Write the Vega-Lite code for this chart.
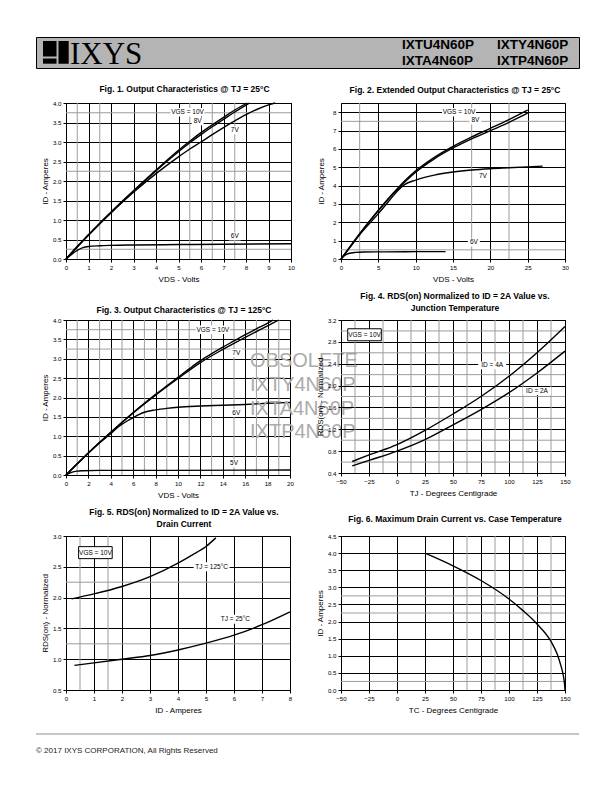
{
 "$schema": "https://vega.github.io/schema/vega-lite/v6.json",
 "padding": {"left": 35, "top": 36, "right": 10, "bottom": 10},
 "background": "white",
 "spacing": 13,
 "config": {
  "font": "Liberation Sans",
  "view": {"stroke": "black", "strokeWidth": 1},
  "axis": {"domain": false, "grid": true, "gridColor": "black", "gridOpacity": 1, "gridWidth": 1, "ticks": true, "tickColor": "black", "tickSize": 3, "labelFontSize": 6.2, "labelColor": "black", "labelFlush": false, "labelOverlap": false, "labelPadding": 2, "titleFontSize": 8, "titleFontWeight": "normal", "titleColor": "black"},
  "axisY": {"minExtent": 13, "titlePadding": 3},
  "axisX": {"titlePadding": 5},
  "title": {"fontSize": 8.5, "fontWeight": "bold", "color": "black", "anchor": "middle", "lineHeight": 12, "frame": "group"}
 },
 "datasets": {
  "f1gx": [{"g": 0.5}, {"g": 1.5}, {"g": 5.5}, {"g": 6.5}, {"g": 7.5}],
  "f1gy": [{"g": 0.25}, {"g": 2.25}, {"g": 3.75}],
  "f1": [
   {"vgs": "10V", "v": 0, "i": 0}, {"vgs": "10V", "v": 0.5, "i": 0.32}, {"vgs": "10V", "v": 1, "i": 0.62}, {"vgs": "10V", "v": 1.5, "i": 0.92}, {"vgs": "10V", "v": 2, "i": 1.2}, {"vgs": "10V", "v": 2.5, "i": 1.48}, {"vgs": "10V", "v": 3, "i": 1.75}, {"vgs": "10V", "v": 3.5, "i": 2.02}, {"vgs": "10V", "v": 4, "i": 2.28}, {"vgs": "10V", "v": 4.5, "i": 2.54}, {"vgs": "10V", "v": 5, "i": 2.79}, {"vgs": "10V", "v": 5.5, "i": 3.02}, {"vgs": "10V", "v": 6, "i": 3.24}, {"vgs": "10V", "v": 6.5, "i": 3.44}, {"vgs": "10V", "v": 7, "i": 3.63}, {"vgs": "10V", "v": 7.5, "i": 3.82}, {"vgs": "10V", "v": 8.05, "i": 4.0},
   {"vgs": "8V", "v": 0, "i": 0}, {"vgs": "8V", "v": 1, "i": 0.62}, {"vgs": "8V", "v": 2, "i": 1.2}, {"vgs": "8V", "v": 3, "i": 1.74}, {"vgs": "8V", "v": 4, "i": 2.26}, {"vgs": "8V", "v": 5, "i": 2.75}, {"vgs": "8V", "v": 5.5, "i": 2.98}, {"vgs": "8V", "v": 6, "i": 3.19}, {"vgs": "8V", "v": 6.5, "i": 3.39}, {"vgs": "8V", "v": 7, "i": 3.58}, {"vgs": "8V", "v": 7.5, "i": 3.77}, {"vgs": "8V", "v": 8.15, "i": 4.0},
   {"vgs": "7V", "v": 0, "i": 0}, {"vgs": "7V", "v": 1, "i": 0.61}, {"vgs": "7V", "v": 2, "i": 1.18}, {"vgs": "7V", "v": 3, "i": 1.71}, {"vgs": "7V", "v": 4, "i": 2.19}, {"vgs": "7V", "v": 5, "i": 2.62}, {"vgs": "7V", "v": 5.5, "i": 2.82}, {"vgs": "7V", "v": 6, "i": 3.0}, {"vgs": "7V", "v": 6.5, "i": 3.19}, {"vgs": "7V", "v": 7, "i": 3.37}, {"vgs": "7V", "v": 7.5, "i": 3.54}, {"vgs": "7V", "v": 8, "i": 3.7}, {"vgs": "7V", "v": 8.5, "i": 3.84}, {"vgs": "7V", "v": 9, "i": 3.95}, {"vgs": "7V", "v": 9.3, "i": 4.0},
   {"vgs": "6V", "v": 0, "i": 0}, {"vgs": "6V", "v": 0.25, "i": 0.12}, {"vgs": "6V", "v": 0.5, "i": 0.22}, {"vgs": "6V", "v": 0.75, "i": 0.29}, {"vgs": "6V", "v": 1, "i": 0.32}, {"vgs": "6V", "v": 1.5, "i": 0.34}, {"vgs": "6V", "v": 2, "i": 0.35}, {"vgs": "6V", "v": 3, "i": 0.36}, {"vgs": "6V", "v": 5, "i": 0.37}, {"vgs": "6V", "v": 7, "i": 0.38}, {"vgs": "6V", "v": 10, "i": 0.39}
  ],
  "f1l": [{"t": "VGS = 10V", "x": 5.4, "y": 3.76}, {"t": "8V", "x": 5.85, "y": 3.53}, {"t": "7V", "x": 7.5, "y": 3.3}, {"t": "6V", "x": 7.5, "y": 0.58}],
  "f2gx": [{"g": 2.5}, {"g": 17.5}, {"g": 22.5}],
  "f2gy": [{"g": 0.5}, {"g": 7.5}],
  "f2": [
   {"vgs": "10V", "v": 0, "i": 0}, {"vgs": "10V", "v": 1, "i": 0.55}, {"vgs": "10V", "v": 2.5, "i": 1.38}, {"vgs": "10V", "v": 5, "i": 2.66}, {"vgs": "10V", "v": 7.5, "i": 3.82}, {"vgs": "10V", "v": 10, "i": 4.8}, {"vgs": "10V", "v": 12.5, "i": 5.54}, {"vgs": "10V", "v": 15, "i": 6.14}, {"vgs": "10V", "v": 17.5, "i": 6.65}, {"vgs": "10V", "v": 20, "i": 7.12}, {"vgs": "10V", "v": 22.5, "i": 7.6}, {"vgs": "10V", "v": 25, "i": 8.12},
   {"vgs": "8V", "v": 0, "i": 0}, {"vgs": "8V", "v": 1, "i": 0.55}, {"vgs": "8V", "v": 2.5, "i": 1.37}, {"vgs": "8V", "v": 5, "i": 2.63}, {"vgs": "8V", "v": 7.5, "i": 3.77}, {"vgs": "8V", "v": 10, "i": 4.73}, {"vgs": "8V", "v": 12.5, "i": 5.46}, {"vgs": "8V", "v": 15, "i": 6.05}, {"vgs": "8V", "v": 17.5, "i": 6.55}, {"vgs": "8V", "v": 20, "i": 6.99}, {"vgs": "8V", "v": 22.5, "i": 7.45}, {"vgs": "8V", "v": 25, "i": 7.95},
   {"vgs": "7V", "v": 0, "i": 0}, {"vgs": "7V", "v": 1, "i": 0.53}, {"vgs": "7V", "v": 2.5, "i": 1.32}, {"vgs": "7V", "v": 5, "i": 2.47}, {"vgs": "7V", "v": 6.5, "i": 3.2}, {"vgs": "7V", "v": 7.5, "i": 3.68}, {"vgs": "7V", "v": 8.5, "i": 4.05}, {"vgs": "7V", "v": 10, "i": 4.3}, {"vgs": "7V", "v": 12.5, "i": 4.57}, {"vgs": "7V", "v": 15, "i": 4.74}, {"vgs": "7V", "v": 17.5, "i": 4.85}, {"vgs": "7V", "v": 20, "i": 4.92}, {"vgs": "7V", "v": 22.5, "i": 4.97}, {"vgs": "7V", "v": 25, "i": 5.02}, {"vgs": "7V", "v": 27, "i": 5.06},
   {"vgs": "6V", "v": 0, "i": 0}, {"vgs": "6V", "v": 0.5, "i": 0.2}, {"vgs": "6V", "v": 1, "i": 0.3}, {"vgs": "6V", "v": 2, "i": 0.36}, {"vgs": "6V", "v": 3, "i": 0.38}, {"vgs": "6V", "v": 6, "i": 0.39}, {"vgs": "6V", "v": 10, "i": 0.4}, {"vgs": "6V", "v": 14, "i": 0.4}
  ],
  "f2l": [{"t": "VGS = 10V", "x": 15.8, "y": 8.0}, {"t": "8V", "x": 18.0, "y": 7.55}, {"t": "7V", "x": 19.0, "y": 4.5}, {"t": "6V", "x": 17.8, "y": 0.9}],
  "f3gx": [{"g": 1}, {"g": 3}, {"g": 5}, {"g": 7}, {"g": 9}, {"g": 11}, {"g": 13}, {"g": 15}, {"g": 17}, {"g": 19}],
  "f3gy": [{"g": 3.25}, {"g": 3.75}],
  "f3": [
   {"vgs": "10V", "v": 0, "i": 0}, {"vgs": "10V", "v": 1, "i": 0.29}, {"vgs": "10V", "v": 2, "i": 0.57}, {"vgs": "10V", "v": 3, "i": 0.84}, {"vgs": "10V", "v": 4, "i": 1.1}, {"vgs": "10V", "v": 5, "i": 1.36}, {"vgs": "10V", "v": 6, "i": 1.61}, {"vgs": "10V", "v": 7, "i": 1.85}, {"vgs": "10V", "v": 8, "i": 2.08}, {"vgs": "10V", "v": 9, "i": 2.3}, {"vgs": "10V", "v": 10, "i": 2.52}, {"vgs": "10V", "v": 11, "i": 2.74}, {"vgs": "10V", "v": 12, "i": 2.95}, {"vgs": "10V", "v": 13, "i": 3.13}, {"vgs": "10V", "v": 14, "i": 3.3}, {"vgs": "10V", "v": 15, "i": 3.46}, {"vgs": "10V", "v": 16, "i": 3.62}, {"vgs": "10V", "v": 17, "i": 3.77}, {"vgs": "10V", "v": 18, "i": 3.92}, {"vgs": "10V", "v": 18.5, "i": 4.0},
   {"vgs": "7V", "v": 0, "i": 0}, {"vgs": "7V", "v": 2, "i": 0.57}, {"vgs": "7V", "v": 4, "i": 1.1}, {"vgs": "7V", "v": 6, "i": 1.6}, {"vgs": "7V", "v": 8, "i": 2.06}, {"vgs": "7V", "v": 10, "i": 2.49}, {"vgs": "7V", "v": 12, "i": 2.9}, {"vgs": "7V", "v": 14, "i": 3.24}, {"vgs": "7V", "v": 16, "i": 3.55}, {"vgs": "7V", "v": 18, "i": 3.85}, {"vgs": "7V", "v": 19, "i": 4.0},
   {"vgs": "6V", "v": 0, "i": 0}, {"vgs": "6V", "v": 1, "i": 0.29}, {"vgs": "6V", "v": 2, "i": 0.57}, {"vgs": "6V", "v": 3, "i": 0.83}, {"vgs": "6V", "v": 4, "i": 1.07}, {"vgs": "6V", "v": 4.5, "i": 1.2}, {"vgs": "6V", "v": 5, "i": 1.31}, {"vgs": "6V", "v": 5.5, "i": 1.4}, {"vgs": "6V", "v": 6, "i": 1.48}, {"vgs": "6V", "v": 6.5, "i": 1.56}, {"vgs": "6V", "v": 7, "i": 1.62}, {"vgs": "6V", "v": 8, "i": 1.68}, {"vgs": "6V", "v": 9, "i": 1.72}, {"vgs": "6V", "v": 10, "i": 1.75}, {"vgs": "6V", "v": 12, "i": 1.78}, {"vgs": "6V", "v": 14, "i": 1.8}, {"vgs": "6V", "v": 16, "i": 1.82}, {"vgs": "6V", "v": 18, "i": 1.85}, {"vgs": "6V", "v": 20, "i": 1.87},
   {"vgs": "5V", "v": 0, "i": 0}, {"vgs": "5V", "v": 0.5, "i": 0.07}, {"vgs": "5V", "v": 1, "i": 0.1}, {"vgs": "5V", "v": 1.5, "i": 0.11}, {"vgs": "5V", "v": 3, "i": 0.12}, {"vgs": "5V", "v": 10, "i": 0.12}, {"vgs": "5V", "v": 20, "i": 0.13}
  ],
  "f3l": [{"t": "VGS = 10V", "x": 13.1, "y": 3.75}, {"t": "7V", "x": 15.2, "y": 3.15}, {"t": "6V", "x": 15.2, "y": 1.6}, {"t": "5V", "x": 15.0, "y": 0.3}],
  "f3w": [{"t": "OBSOLETE", "x": 16.43, "y": 2.94}, {"t": "IXTY4N60P", "x": 16.43, "y": 2.32}, {"t": "IXTA4N60P", "x": 16.43, "y": 1.7}, {"t": "IXTP4N60P", "x": 16.43, "y": 1.11}],
  "f4gx": [{"g": -37.5}, {"g": -12.5}, {"g": 12.5}, {"g": 37.5}, {"g": 62.5}, {"g": 87.5}, {"g": 112.5}, {"g": 137.5}],
  "f4gy": [{"g": 0.6}, {"g": 1.0}, {"g": 1.4}, {"g": 1.8}, {"g": 2.2}, {"g": 2.6}, {"g": 3.0}],
  "f4": [
   {"id": "4A", "t": -40, "r": 0.61}, {"id": "4A", "t": -25, "r": 0.73}, {"id": "4A", "t": 0, "r": 0.92}, {"id": "4A", "t": 25, "r": 1.18}, {"id": "4A", "t": 50, "r": 1.48}, {"id": "4A", "t": 75, "r": 1.8}, {"id": "4A", "t": 100, "r": 2.17}, {"id": "4A", "t": 125, "r": 2.6}, {"id": "4A", "t": 150, "r": 3.08},
   {"id": "2A", "t": -40, "r": 0.53}, {"id": "2A", "t": -25, "r": 0.63}, {"id": "2A", "t": 0, "r": 0.8}, {"id": "2A", "t": 25, "r": 1.01}, {"id": "2A", "t": 50, "r": 1.28}, {"id": "2A", "t": 75, "r": 1.56}, {"id": "2A", "t": 100, "r": 1.87}, {"id": "2A", "t": 125, "r": 2.23}, {"id": "2A", "t": 150, "r": 2.63}
  ],
  "f4l": [{"t": "ID = 4A", "x": 85, "y": 2.37}, {"t": "ID = 2A", "x": 125, "y": 1.9}],
  "f4b": [{"t": "VGS = 10V", "x": -29, "y": 2.93}],
  "f5gx": [{"g": 0.5}, {"g": 1.5}],
  "f5gy": [{"g": 1.25}, {"g": 2.25}],
  "f5": [
   {"tj": "125", "id": 0.2, "r": 1.98}, {"tj": "125", "id": 1, "r": 2.06}, {"tj": "125", "id": 2, "r": 2.18}, {"tj": "125", "id": 3, "r": 2.34}, {"tj": "125", "id": 4, "r": 2.56}, {"tj": "125", "id": 4.5, "r": 2.69}, {"tj": "125", "id": 5, "r": 2.83}, {"tj": "125", "id": 5.35, "r": 2.97},
   {"tj": "25", "id": 0.3, "r": 0.9}, {"tj": "25", "id": 1, "r": 0.94}, {"tj": "25", "id": 2, "r": 1.0}, {"tj": "25", "id": 3, "r": 1.06}, {"tj": "25", "id": 4, "r": 1.15}, {"tj": "25", "id": 5, "r": 1.26}, {"tj": "25", "id": 6, "r": 1.39}, {"tj": "25", "id": 7, "r": 1.56}, {"tj": "25", "id": 8, "r": 1.77}
  ],
  "f5l": [{"t": "TJ = 125°C", "x": 5.2, "y": 2.5}, {"t": "TJ = 25°C", "x": 6.05, "y": 1.65}],
  "f5b": [{"t": "VGS = 10V", "x": 1.05, "y": 2.73}],
  "f6gx": [{"g": 62.5}, {"g": 87.5}, {"g": 112.5}, {"g": 137.5}],
  "f6gy": [{"g": 0.25}, {"g": 2.25}, {"g": 2.75}],
  "f6": [
   {"t": 25, "id": 4.0}, {"t": 50, "id": 3.63}, {"t": 75, "id": 3.2}, {"t": 100, "id": 2.66}, {"t": 112.5, "id": 2.32}, {"t": 125, "id": 1.93}, {"t": 137.5, "id": 1.42}, {"t": 143, "id": 1.05}, {"t": 146, "id": 0.75}, {"t": 148, "id": 0.5}, {"t": 149.5, "id": 0.2}, {"t": 150, "id": 0}
  ]
 },
 "vconcat": [
  {
   "width": 543, "height": 31,
   "view": {"fill": "#b4b4b4", "stroke": "black", "strokeWidth": 1},
   "data": {"values": [{}]},
   "layer": [
    {"mark": {"type": "rect", "color": "black"}, "encoding": {"x": {"datum": 0.0129, "type": "quantitative", "scale": {"domain": [0, 1]}, "axis": null}, "x2": {"datum": 0.0378}, "y": {"datum": 0.371, "type": "quantitative", "scale": {"domain": [0, 1]}, "axis": null}, "y2": {"datum": 0.871}}},
    {"mark": {"type": "rect", "color": "black"}, "encoding": {"x": {"datum": 0.0129, "type": "quantitative", "scale": {"domain": [0, 1]}, "axis": null}, "x2": {"datum": 0.0378}, "y": {"datum": 0.139, "type": "quantitative", "scale": {"domain": [0, 1]}, "axis": null}, "y2": {"datum": 0.306}}},
    {"mark": {"type": "rect", "color": "black"}, "encoding": {"x": {"datum": 0.0414, "type": "quantitative", "scale": {"domain": [0, 1]}, "axis": null}, "x2": {"datum": 0.0602}, "y": {"datum": 0.139, "type": "quantitative", "scale": {"domain": [0, 1]}, "axis": null}, "y2": {"datum": 0.871}}},
    {"mark": {"type": "text", "font": "Liberation Serif", "fontSize": 31, "align": "left", "baseline": "alphabetic", "color": "black"}, "encoding": {"x": {"datum": 0.0626, "type": "quantitative", "scale": {"domain": [0, 1]}, "axis": null}, "y": {"datum": 0.139, "type": "quantitative", "scale": {"domain": [0, 1]}, "axis": null}, "text": {"value": "IXYS"}}},
    {"mark": {"type": "text", "fontSize": 13.5, "fontWeight": "bold", "align": "left", "baseline": "alphabetic", "color": "black"}, "encoding": {"x": {"datum": 0.674, "type": "quantitative", "scale": {"domain": [0, 1]}, "axis": null}, "y": {"datum": 0.603, "type": "quantitative", "scale": {"domain": [0, 1]}, "axis": null}, "text": {"value": "IXTU4N60P"}}},
    {"mark": {"type": "text", "fontSize": 13.5, "fontWeight": "bold", "align": "left", "baseline": "alphabetic", "color": "black"}, "encoding": {"x": {"datum": 0.849, "type": "quantitative", "scale": {"domain": [0, 1]}, "axis": null}, "y": {"datum": 0.603, "type": "quantitative", "scale": {"domain": [0, 1]}, "axis": null}, "text": {"value": "IXTY4N60P"}}},
    {"mark": {"type": "text", "fontSize": 13.5, "fontWeight": "bold", "align": "left", "baseline": "alphabetic", "color": "black"}, "encoding": {"x": {"datum": 0.674, "type": "quantitative", "scale": {"domain": [0, 1]}, "axis": null}, "y": {"datum": 0.087, "type": "quantitative", "scale": {"domain": [0, 1]}, "axis": null}, "text": {"value": "IXTA4N60P"}}},
    {"mark": {"type": "text", "fontSize": 13.5, "fontWeight": "bold", "align": "left", "baseline": "alphabetic", "color": "black"}, "encoding": {"x": {"datum": 0.849, "type": "quantitative", "scale": {"domain": [0, 1]}, "axis": null}, "y": {"datum": 0.087, "type": "quantitative", "scale": {"domain": [0, 1]}, "axis": null}, "text": {"value": "IXTP4N60P"}}}
   ]
  },
  {
   "spacing": 3,
   "hconcat": [
    {"width": 1, "height": 1, "view": {"stroke": null}, "data": {"values": [{}]}, "mark": {"type": "point", "size": 0, "opacity": 0, "filled": true, "strokeWidth": 0}},
    {
     "columns": 2, "bounds": "flush", "align": "each", "spacing": {"row": 61, "column": 50},
     "concat": [
      {
       "width": 225, "height": 156,
       "title": {"text": "Fig. 1. Output Characteristics @ TJ = 25°C", "offset": 7, "dx": 6},
       "resolve": {"axis": {"x": "independent", "y": "independent"}},
       "layer": [
        {"data": {"name": "f1gx"}, "mark": {"type": "rule", "color": "#9c9c9c", "strokeWidth": 1}, "encoding": {"x": {"field": "g", "type": "quantitative", "scale": {"domain": [0, 10], "nice": false}, "axis": null}}},
        {"data": {"name": "f1gy"}, "mark": {"type": "rule", "color": "#9c9c9c", "strokeWidth": 1}, "encoding": {"y": {"field": "g", "type": "quantitative", "scale": {"domain": [0, 4], "nice": false}, "axis": null}}},
        {"data": {"name": "f1l"}, "transform": [{"filter": "length(datum.t) > 4"}], "mark": {"type": "point", "shape": "M-2,-0.5H2V0.5H-2Z", "filled": true, "color": "white", "opacity": 1, "size": 289, "strokeWidth": 0}, "encoding": {"x": {"field": "x", "type": "quantitative", "scale": {"domain": [0, 10], "nice": false}, "axis": null}, "y": {"field": "y", "type": "quantitative", "scale": {"domain": [0, 4], "nice": false}, "axis": null}}},
        {"data": {"name": "f1l"}, "transform": [{"filter": "length(datum.t) <= 4"}], "mark": {"type": "point", "shape": "M-0.75,-0.5H0.75V0.5H-0.75Z", "filled": true, "color": "white", "opacity": 1, "size": 256, "strokeWidth": 0}, "encoding": {"x": {"field": "x", "type": "quantitative", "scale": {"domain": [0, 10], "nice": false}, "axis": null}, "y": {"field": "y", "type": "quantitative", "scale": {"domain": [0, 4], "nice": false}, "axis": null}}},
        {"data": {"name": "f1"}, "mark": {"type": "line", "color": "black", "strokeWidth": 1.4, "interpolate": "monotone"}, "encoding": {"x": {"field": "v", "type": "quantitative", "scale": {"domain": [0, 10], "nice": false}, "axis": {"title": "VDS - Volts", "grid": true, "gridColor": "black", "values": [0, 1, 2, 3, 4, 5, 6, 7, 8, 9, 10]}}, "y": {"field": "i", "type": "quantitative", "scale": {"domain": [0, 4], "nice": false}, "axis": {"title": "ID - Amperes", "grid": true, "gridColor": "black", "values": [0, 0.5, 1, 1.5, 2, 2.5, 3, 3.5, 4], "format": ".1f"}}, "detail": {"field": "vgs", "type": "nominal"}}},
        {"data": {"name": "f1l"}, "mark": {"type": "text", "fontSize": 6.5, "color": "black"}, "encoding": {"x": {"field": "x", "type": "quantitative", "scale": {"domain": [0, 10], "nice": false}, "axis": null}, "y": {"field": "y", "type": "quantitative", "scale": {"domain": [0, 4], "nice": false}, "axis": null}, "text": {"field": "t"}}}
       ]
      },
      {
       "width": 224, "height": 156,
       "title": {"text": "Fig. 2. Extended Output Characteristics @ TJ = 25°C", "offset": 8, "dx": 2},
       "resolve": {"axis": {"x": "independent", "y": "independent"}},
       "layer": [
        {"data": {"name": "f2gx"}, "mark": {"type": "rule", "color": "#9c9c9c", "strokeWidth": 1}, "encoding": {"x": {"field": "g", "type": "quantitative", "scale": {"domain": [0, 30], "nice": false}, "axis": null}}},
        {"data": {"name": "f2gy"}, "mark": {"type": "rule", "color": "#9c9c9c", "strokeWidth": 1}, "encoding": {"y": {"field": "g", "type": "quantitative", "scale": {"domain": [0, 8.5], "nice": false}, "axis": null}}},
        {"data": {"name": "f2l"}, "transform": [{"filter": "length(datum.t) > 4"}], "mark": {"type": "point", "shape": "M-2,-0.5H2V0.5H-2Z", "filled": true, "color": "white", "opacity": 1, "size": 289, "strokeWidth": 0}, "encoding": {"x": {"field": "x", "type": "quantitative", "scale": {"domain": [0, 30], "nice": false}, "axis": null}, "y": {"field": "y", "type": "quantitative", "scale": {"domain": [0, 8.5], "nice": false}, "axis": null}}},
        {"data": {"name": "f2l"}, "transform": [{"filter": "length(datum.t) <= 4"}], "mark": {"type": "point", "shape": "M-0.75,-0.5H0.75V0.5H-0.75Z", "filled": true, "color": "white", "opacity": 1, "size": 256, "strokeWidth": 0}, "encoding": {"x": {"field": "x", "type": "quantitative", "scale": {"domain": [0, 30], "nice": false}, "axis": null}, "y": {"field": "y", "type": "quantitative", "scale": {"domain": [0, 8.5], "nice": false}, "axis": null}}},
        {"data": {"name": "f2"}, "mark": {"type": "line", "color": "black", "strokeWidth": 1.4, "interpolate": "monotone"}, "encoding": {"x": {"field": "v", "type": "quantitative", "scale": {"domain": [0, 30], "nice": false}, "axis": {"title": "VDS - Volts", "grid": true, "gridColor": "black", "values": [0, 5, 10, 15, 20, 25, 30]}}, "y": {"field": "i", "type": "quantitative", "scale": {"domain": [0, 8.5], "nice": false}, "axis": {"title": "ID - Amperes", "grid": true, "gridColor": "black", "values": [0, 1, 2, 3, 4, 5, 6, 7, 8], "format": "d"}}, "detail": {"field": "vgs", "type": "nominal"}}},
        {"data": {"name": "f2l"}, "mark": {"type": "text", "fontSize": 6.5, "color": "black"}, "encoding": {"x": {"field": "x", "type": "quantitative", "scale": {"domain": [0, 30], "nice": false}, "axis": null}, "y": {"field": "y", "type": "quantitative", "scale": {"domain": [0, 8.5], "nice": false}, "axis": null}, "text": {"field": "t"}}}
       ]
      },
      {
       "width": 224, "height": 155,
       "title": {"text": "Fig. 3. Output Characteristics @ TJ = 125°C", "offset": 3, "dx": 6},
       "resolve": {"axis": {"x": "independent", "y": "independent"}},
       "layer": [
        {"data": {"name": "f3gx"}, "mark": {"type": "rule", "color": "#9c9c9c", "strokeWidth": 1}, "encoding": {"x": {"field": "g", "type": "quantitative", "scale": {"domain": [0, 20], "nice": false}, "axis": null}}},
        {"data": {"name": "f3gy"}, "mark": {"type": "rule", "color": "#9c9c9c", "strokeWidth": 1}, "encoding": {"y": {"field": "g", "type": "quantitative", "scale": {"domain": [0, 4], "nice": false}, "axis": null}}},
        {"data": {"name": "f3l"}, "transform": [{"filter": "length(datum.t) > 4"}], "mark": {"type": "point", "shape": "M-2,-0.5H2V0.5H-2Z", "filled": true, "color": "white", "opacity": 1, "size": 289, "strokeWidth": 0}, "encoding": {"x": {"field": "x", "type": "quantitative", "scale": {"domain": [0, 20], "nice": false}, "axis": null}, "y": {"field": "y", "type": "quantitative", "scale": {"domain": [0, 4], "nice": false}, "axis": null}}},
        {"data": {"name": "f3l"}, "transform": [{"filter": "length(datum.t) <= 4"}], "mark": {"type": "point", "shape": "M-0.75,-0.5H0.75V0.5H-0.75Z", "filled": true, "color": "white", "opacity": 1, "size": 256, "strokeWidth": 0}, "encoding": {"x": {"field": "x", "type": "quantitative", "scale": {"domain": [0, 20], "nice": false}, "axis": null}, "y": {"field": "y", "type": "quantitative", "scale": {"domain": [0, 4], "nice": false}, "axis": null}}},
        {"data": {"name": "f3"}, "mark": {"type": "line", "color": "black", "strokeWidth": 1.4, "interpolate": "monotone"}, "encoding": {"x": {"field": "v", "type": "quantitative", "scale": {"domain": [0, 20], "nice": false}, "axis": {"title": "VDS - Volts", "grid": true, "gridColor": "black", "values": [0, 2, 4, 6, 8, 10, 12, 14, 16, 18, 20]}}, "y": {"field": "i", "type": "quantitative", "scale": {"domain": [0, 4], "nice": false}, "axis": {"title": "ID - Amperes", "grid": true, "gridColor": "black", "values": [0, 0.5, 1, 1.5, 2, 2.5, 3, 3.5, 4], "format": ".1f"}}, "detail": {"field": "vgs", "type": "nominal"}}},
        {"data": {"name": "f3l"}, "mark": {"type": "text", "fontSize": 6.5, "color": "black"}, "encoding": {"x": {"field": "x", "type": "quantitative", "scale": {"domain": [0, 20], "nice": false}, "axis": null}, "y": {"field": "y", "type": "quantitative", "scale": {"domain": [0, 4], "nice": false}, "axis": null}, "text": {"field": "t"}}},
        {"data": {"name": "f3w"}, "mark": {"type": "text", "fontSize": 20, "color": "#ababab", "align": "left", "baseline": "middle"}, "encoding": {"x": {"field": "x", "type": "quantitative", "scale": {"domain": [0, 20], "nice": false}, "axis": null}, "y": {"field": "y", "type": "quantitative", "scale": {"domain": [0, 4], "nice": false}, "axis": null}, "text": {"field": "t"}}}
       ]
      },
      {
       "width": 224, "height": 153,
       "title": {"text": ["Fig. 4. RDS(on) Normalized to ID = 2A Value vs.", "Junction Temperature"], "offset": 5, "dx": 2},
       "resolve": {"axis": {"x": "independent", "y": "independent"}},
       "layer": [
        {"data": {"name": "f4gx"}, "mark": {"type": "rule", "color": "#9c9c9c", "strokeWidth": 1}, "encoding": {"x": {"field": "g", "type": "quantitative", "scale": {"domain": [-50, 150], "nice": false}, "axis": null}}},
        {"data": {"name": "f4gy"}, "mark": {"type": "rule", "color": "#9c9c9c", "strokeWidth": 1}, "encoding": {"y": {"field": "g", "type": "quantitative", "scale": {"domain": [0.4, 3.2], "nice": false}, "axis": null}}},
        {"data": {"name": "f4l"}, "mark": {"type": "point", "shape": "M-1.75,-0.5H1.75V0.5H-1.75Z", "filled": true, "color": "white", "opacity": 1, "size": 256, "strokeWidth": 0}, "encoding": {"x": {"field": "x", "type": "quantitative", "scale": {"domain": [-50, 150], "nice": false}, "axis": null}, "y": {"field": "y", "type": "quantitative", "scale": {"domain": [0.4, 3.2], "nice": false}, "axis": null}}},
        {"data": {"name": "f4b"}, "mark": {"type": "point", "shape": "M-1.4,-0.5H1.4V0.5H-1.4Z", "filled": true, "color": "white", "stroke": "black", "opacity": 1, "size": 576, "strokeWidth": 1}, "encoding": {"x": {"field": "x", "type": "quantitative", "scale": {"domain": [-50, 150], "nice": false}, "axis": null}, "y": {"field": "y", "type": "quantitative", "scale": {"domain": [0.4, 3.2], "nice": false}, "axis": null}}},
        {"data": {"name": "f4"}, "mark": {"type": "line", "color": "black", "strokeWidth": 1.4, "interpolate": "monotone"}, "encoding": {"x": {"field": "t", "type": "quantitative", "scale": {"domain": [-50, 150], "nice": false}, "axis": {"title": "TJ - Degrees Centigrade", "grid": true, "gridColor": "black", "values": [-50, -25, 0, 25, 50, 75, 100, 125, 150]}}, "y": {"field": "r", "type": "quantitative", "scale": {"domain": [0.4, 3.2], "nice": false}, "axis": {"title": "RDS(on) - Normalized", "grid": true, "gridColor": "black", "values": [0.4, 0.8, 1.2, 1.6, 2.0, 2.4, 2.8, 3.2], "format": ".1f"}}, "detail": {"field": "id", "type": "nominal"}}},
        {"data": {"name": "f4l"}, "mark": {"type": "text", "fontSize": 6.5, "color": "black"}, "encoding": {"x": {"field": "x", "type": "quantitative", "scale": {"domain": [-50, 150], "nice": false}, "axis": null}, "y": {"field": "y", "type": "quantitative", "scale": {"domain": [0.4, 3.2], "nice": false}, "axis": null}, "text": {"field": "t"}}},
        {"data": {"name": "f4b"}, "mark": {"type": "text", "fontSize": 6.5, "color": "black"}, "encoding": {"x": {"field": "x", "type": "quantitative", "scale": {"domain": [-50, 150], "nice": false}, "axis": null}, "y": {"field": "y", "type": "quantitative", "scale": {"domain": [0.4, 3.2], "nice": false}, "axis": null}, "text": {"field": "t"}}}
       ]
      },
      {
       "width": 224, "height": 154,
       "title": {"text": ["Fig. 5. RDS(on) Normalized to ID = 2A Value vs.", "Drain Current"], "offset": 5, "dx": 6},
       "resolve": {"axis": {"x": "independent", "y": "independent"}},
       "layer": [
        {"data": {"name": "f5gx"}, "mark": {"type": "rule", "color": "#9c9c9c", "strokeWidth": 1}, "encoding": {"x": {"field": "g", "type": "quantitative", "scale": {"domain": [0, 8], "nice": false}, "axis": null}}},
        {"data": {"name": "f5gy"}, "mark": {"type": "rule", "color": "#9c9c9c", "strokeWidth": 1}, "encoding": {"y": {"field": "g", "type": "quantitative", "scale": {"domain": [0.5, 3.0], "nice": false}, "axis": null}}},
        {"data": {"name": "f5l"}, "mark": {"type": "point", "shape": "M-2,-0.5H2V0.5H-2Z", "filled": true, "color": "white", "opacity": 1, "size": 324, "strokeWidth": 0}, "encoding": {"x": {"field": "x", "type": "quantitative", "scale": {"domain": [0, 8], "nice": false}, "axis": null}, "y": {"field": "y", "type": "quantitative", "scale": {"domain": [0.5, 3.0], "nice": false}, "axis": null}}},
        {"data": {"name": "f5b"}, "mark": {"type": "point", "shape": "M-1.4,-0.5H1.4V0.5H-1.4Z", "filled": true, "color": "white", "stroke": "black", "opacity": 1, "size": 576, "strokeWidth": 1}, "encoding": {"x": {"field": "x", "type": "quantitative", "scale": {"domain": [0, 8], "nice": false}, "axis": null}, "y": {"field": "y", "type": "quantitative", "scale": {"domain": [0.5, 3.0], "nice": false}, "axis": null}}},
        {"data": {"name": "f5"}, "mark": {"type": "line", "color": "black", "strokeWidth": 1.4, "interpolate": "monotone"}, "encoding": {"x": {"field": "id", "type": "quantitative", "scale": {"domain": [0, 8], "nice": false}, "axis": {"title": "ID - Amperes", "grid": true, "gridColor": "black", "values": [0, 1, 2, 3, 4, 5, 6, 7, 8]}}, "y": {"field": "r", "type": "quantitative", "scale": {"domain": [0.5, 3.0], "nice": false}, "axis": {"title": "RDS(on) - Normalized", "grid": true, "gridColor": "black", "values": [0.5, 1.0, 1.5, 2.0, 2.5, 3.0], "format": ".1f"}}, "detail": {"field": "tj", "type": "nominal"}}},
        {"data": {"name": "f5l"}, "mark": {"type": "text", "fontSize": 6.5, "color": "black"}, "encoding": {"x": {"field": "x", "type": "quantitative", "scale": {"domain": [0, 8], "nice": false}, "axis": null}, "y": {"field": "y", "type": "quantitative", "scale": {"domain": [0.5, 3.0], "nice": false}, "axis": null}, "text": {"field": "t"}}},
        {"data": {"name": "f5b"}, "mark": {"type": "text", "fontSize": 6.5, "color": "black"}, "encoding": {"x": {"field": "x", "type": "quantitative", "scale": {"domain": [0, 8], "nice": false}, "axis": null}, "y": {"field": "y", "type": "quantitative", "scale": {"domain": [0.5, 3.0], "nice": false}, "axis": null}, "text": {"field": "t"}}}
       ]
      },
      {
       "width": 224, "height": 154,
       "title": {"text": "Fig. 6. Maximum Drain Current vs. Case Temperature", "offset": 10, "dx": 2},
       "resolve": {"axis": {"x": "independent", "y": "independent"}},
       "layer": [
        {"data": {"name": "f6gx"}, "mark": {"type": "rule", "color": "#9c9c9c", "strokeWidth": 1}, "encoding": {"x": {"field": "g", "type": "quantitative", "scale": {"domain": [-50, 150], "nice": false}, "axis": null}}},
        {"data": {"name": "f6gy"}, "mark": {"type": "rule", "color": "#9c9c9c", "strokeWidth": 1}, "encoding": {"y": {"field": "g", "type": "quantitative", "scale": {"domain": [0, 4.5], "nice": false}, "axis": null}}},
        {"data": {"name": "f6"}, "mark": {"type": "line", "color": "black", "strokeWidth": 1.4, "interpolate": "monotone"}, "encoding": {"x": {"field": "t", "type": "quantitative", "scale": {"domain": [-50, 150], "nice": false}, "axis": {"title": "TC - Degrees Centigrade", "grid": true, "gridColor": "black", "values": [-50, -25, 0, 25, 50, 75, 100, 125, 150]}}, "y": {"field": "id", "type": "quantitative", "scale": {"domain": [0, 4.5], "nice": false}, "axis": {"title": "ID - Amperes", "grid": true, "gridColor": "black", "values": [0, 0.5, 1, 1.5, 2, 2.5, 3, 3.5, 4, 4.5], "format": ".1f"}}}}
       ]
      }
     ]
    }
   ]
  },
  {
   "width": 543, "height": 28,
   "view": {"stroke": null},
   "data": {"values": [{}]},
   "layer": [
    {"mark": {"type": "rule", "color": "#8c8c8c", "strokeWidth": 1}, "encoding": {"y": {"datum": 0.786, "type": "quantitative", "scale": {"domain": [0, 1]}, "axis": null}}},
    {"mark": {"type": "text", "fontSize": 8, "align": "left", "baseline": "alphabetic", "color": "#222222"}, "encoding": {"x": {"datum": 0, "type": "quantitative", "scale": {"domain": [0, 1]}, "axis": null}, "y": {"datum": 0.107, "type": "quantitative", "scale": {"domain": [0, 1]}, "axis": null}, "text": {"value": "© 2017 IXYS CORPORATION, All Rights Reserved"}}}
   ]
  }
 ]
}
